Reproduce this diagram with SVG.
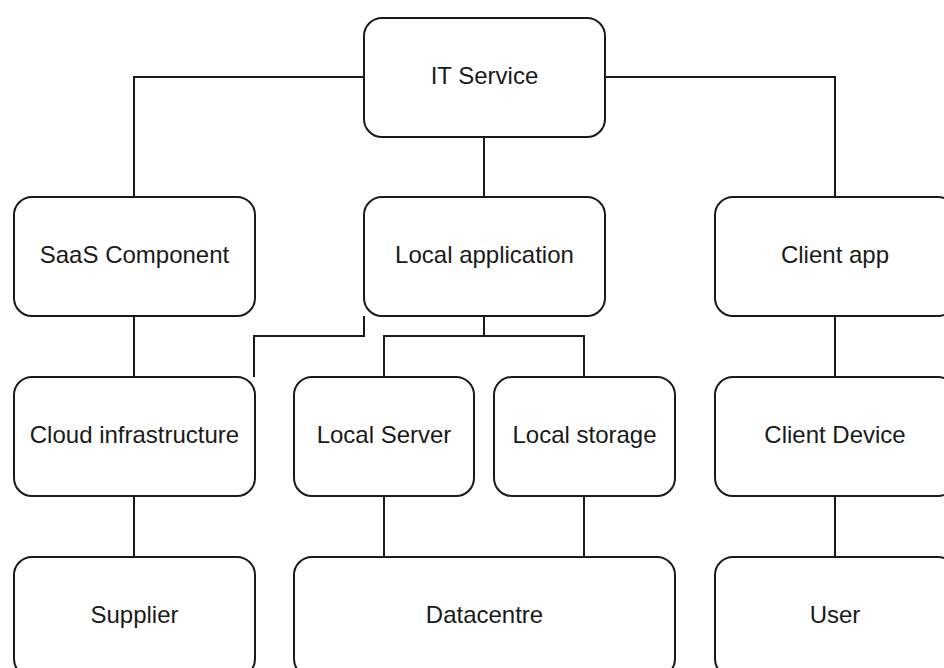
<svg xmlns="http://www.w3.org/2000/svg" width="944" height="668" viewBox="0 0 944 668">
  <style>
    .box { fill: #ffffff; stroke: #1a1a1a; stroke-width: 2; }
    .lbl { font-family: "Liberation Sans", Arial, Helvetica, sans-serif; font-size: 24px; fill: #1a1a1a; text-anchor: middle; }
    .wire { fill: none; stroke: #1a1a1a; stroke-width: 2; }
  </style>
  <rect width="944" height="668" fill="#ffffff"/>

  <!-- connectors -->
  <g id="connectors">
    <path class="wire" d="M364 77 H134 V197"/>
    <path class="wire" d="M605 77 H835 V197"/>
    <path class="wire" d="M484 137 V197"/>
    <path class="wire" d="M134 316 V377"/>
    <path class="wire" d="M484 316 V336 H384 V377"/>
    <path class="wire" d="M484 336 H584 V377"/>
    <path class="wire" d="M364 316 V336 H254 V377"/>
    <path class="wire" d="M835 316 V377"/>
    <path class="wire" d="M134 496 V557"/>
    <path class="wire" d="M384 496 V557"/>
    <path class="wire" d="M584 496 V557"/>
    <path class="wire" d="M835 496 V557"/>
  </g>

  <!-- nodes -->
  <g id="it-service">
    <rect class="box" x="364" y="18" width="241" height="119" rx="18"/>
    <text class="lbl" x="484.5" y="84">IT Service</text>
  </g>
  <g id="saas-component">
    <rect class="box" x="14" y="197" width="241" height="119" rx="18"/>
    <text class="lbl" x="134.5" y="263">SaaS Component</text>
  </g>
  <g id="local-application">
    <rect class="box" x="364" y="197" width="241" height="119" rx="18"/>
    <text class="lbl" x="484.5" y="263">Local application</text>
  </g>
  <g id="client-app">
    <rect class="box" x="715" y="197" width="241" height="119" rx="18"/>
    <text class="lbl" x="835" y="263">Client app</text>
  </g>
  <g id="cloud-infrastructure">
    <rect class="box" x="14" y="377" width="241" height="119" rx="18"/>
    <text class="lbl" x="134.5" y="443">Cloud infrastructure</text>
  </g>
  <g id="local-server">
    <rect class="box" x="294" y="377" width="180" height="119" rx="18"/>
    <text class="lbl" x="384" y="443">Local Server</text>
  </g>
  <g id="local-storage">
    <rect class="box" x="494" y="377" width="181" height="119" rx="18"/>
    <text class="lbl" x="584.5" y="443">Local storage</text>
  </g>
  <g id="client-device">
    <rect class="box" x="715" y="377" width="241" height="119" rx="18"/>
    <text class="lbl" x="835" y="443">Client Device</text>
  </g>
  <g id="supplier">
    <rect class="box" x="14" y="557" width="241" height="120" rx="18"/>
    <text class="lbl" x="134.5" y="623">Supplier</text>
  </g>
  <g id="datacentre">
    <rect class="box" x="294" y="557" width="381" height="120" rx="18"/>
    <text class="lbl" x="484.5" y="623">Datacentre</text>
  </g>
  <g id="user">
    <rect class="box" x="715" y="557" width="241" height="120" rx="18"/>
    <text class="lbl" x="835" y="623">User</text>
  </g>
</svg>
